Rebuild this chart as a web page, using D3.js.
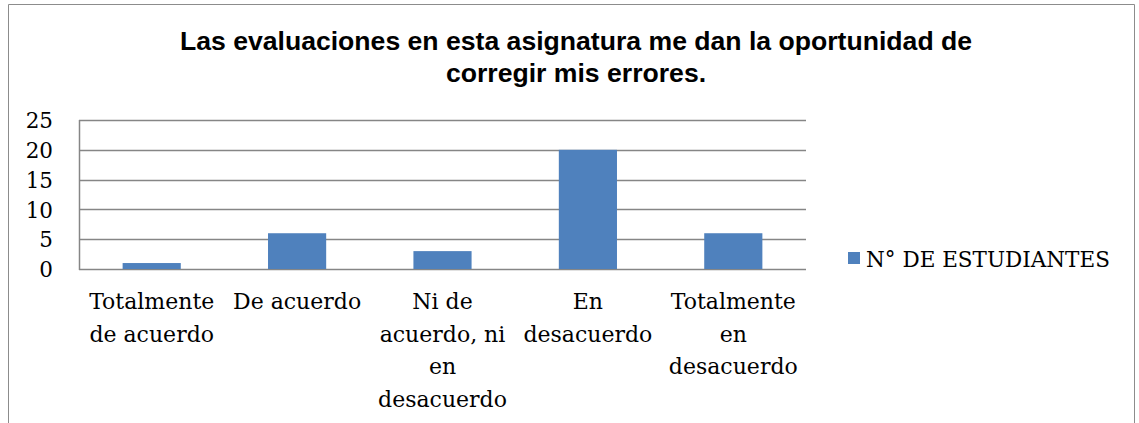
<!DOCTYPE html>
<html><head><meta charset="utf-8">
<script src="https://cdn.jsdelivr.net/npm/d3@7"></script>
<style>body{margin:0;background:#fff}svg{display:block}</style>
</head><body>
<svg id="c" width="1139" height="423"></svg>
<script>
const title = ["Las evaluaciones en esta asignatura me dan la oportunidad de", "corregir mis errores."];
const categories = ["Totalmente\nde acuerdo", "De acuerdo", "Ni de\nacuerdo, ni\nen\ndesacuerdo", "En\ndesacuerdo", "Totalmente\nen\ndesacuerdo"];
const values = [1, 6, 3, 20, 6];
const yTicks = [0, 5, 10, 15, 20, 25];
const seriesName = "N° DE ESTUDIANTES";

const svg = d3.select("#c");
const W = 1139, H = 423;
const m = {left: 79, right: 806, top: 120, bottom: 269};
const serif = "'DejaVu Serif', serif";
const fs = 21.5;

// frame
svg.append("path").attr("d", `M8.5,${H} V4.5 H1134.5 V${H}`).attr("fill","none").attr("stroke","#8c8c8c").attr("stroke-width",1);

// title
svg.append("text").attr("text-anchor","middle")
  .attr("font-family","'Liberation Sans', Arial, sans-serif").attr("font-weight","bold").attr("font-size",26.6)
  .selectAll("tspan").data(title).join("tspan").attr("x",576).attr("y",(d,i)=>50+i*32).text(d=>d);

const x = d3.scaleBand().domain(categories).range([m.left, m.right]).paddingInner(0.6).paddingOuter(0.3);
const y = d3.scaleLinear().domain([0,25]).range([m.bottom, m.top]);

// grid
svg.append("g").selectAll("line").data(yTicks).join("line")
  .attr("x1", m.left).attr("x2", m.right).attr("y1", d=>Math.round(y(d))+0.5).attr("y2", d=>Math.round(y(d))+0.5)
  .attr("stroke","#868686").attr("stroke-width",1.5);
svg.append("line").attr("x1",m.left+0.5).attr("x2",m.left+0.5).attr("y1",m.top).attr("y2",m.bottom+1)
  .attr("stroke","#868686").attr("stroke-width",1.5);

// y labels
const yAxis = d3.axisLeft(y).tickValues(yTicks).tickSize(0).tickPadding(26);
const ga = svg.append("g").attr("transform",`translate(${m.left},0)`).call(yAxis);
ga.select(".domain").remove();
ga.selectAll("text").attr("font-family",serif).attr("font-size",fs).attr("fill","#000").attr("dy","0.36em");

// bars
svg.append("g").selectAll("rect").data(values).join("rect")
  .attr("x",(d,i)=>x(categories[i])).attr("width",x.bandwidth())
  .attr("y",d=>y(d)).attr("height",d=>y(0)-y(d)).attr("fill","#4f81bd");

// x labels
const xl = svg.append("g").selectAll("text").data(categories).join("text")
  .attr("text-anchor","middle").attr("font-family",serif).attr("font-size",22).attr("fill","#000");
xl.each(function(d){
  const cx = x(d)+x.bandwidth()/2;
  d3.select(this).selectAll("tspan").data(d.split("\n")).join("tspan")
    .attr("x",cx).attr("y",(t,i)=>309+i*32.7).text(t=>t);
});

// legend
const lg = svg.append("g");
lg.append("rect").attr("x",848).attr("y",252).attr("width",12).attr("height",12).attr("fill","#4f81bd");
lg.append("text").attr("x",866).attr("y",267).attr("font-family",serif).attr("font-size",fs).attr("fill","#000").text(seriesName);
</script>
</body></html>
